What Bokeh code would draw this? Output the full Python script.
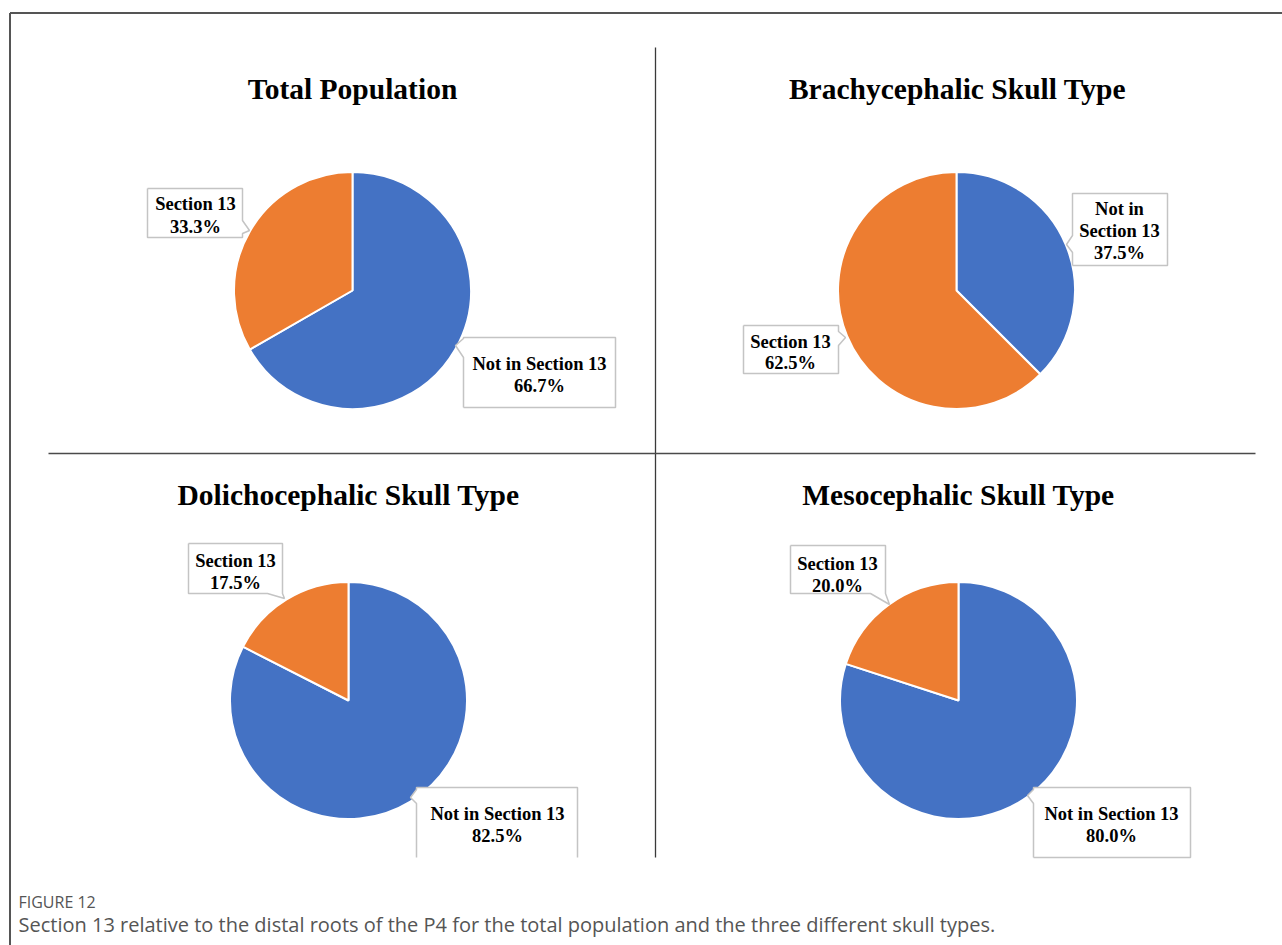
import numpy as np
from bokeh.plotting import figure
from bokeh.models import Range1d
from bokeh.core.properties import value
from bokeh.embed import file_html
from bokeh.resources import INLINE

# ---------------- data ----------------
panels = ["Total Population", "Brachycephalic Skull Type",
          "Dolichocephalic Skull Type", "Mesocephalic Skull Type"]
categories = ["Not in Section 13", "Section 13"]
not_in_section13 = [66.7, 37.5, 82.5, 80.0]
in_section13 = [33.3, 62.5, 17.5, 20.0]
slice_colors = ["#4472C4", "#ED7D31"]
caption_head = "FIGURE 12"
caption_text = ("Section 13 relative to the distal roots of the P4 for the total "
                "population and the three different skull types.")

# ---------------- layout ----------------
W, H = 1282, 945
OX, OY = 0, 0
SERIF = value("Liberation Serif")
SANS = value("Open Sans")

p = figure(width=W, height=H, x_range=Range1d(OX, OX + W),
           y_range=Range1d(-(OY + H), -OY), output_backend="svg",
           toolbar_location=None, min_border=0,
           x_axis_type=None, y_axis_type=None)
p.grid.visible = False
p.outline_line_color = None
p.background_fill_color = "white"
p.border_fill_color = "white"


def Y(v):
    return -v


# frame lines
p.line([9.5, OX + W], [Y(12.5), Y(12.5)], line_color="#555555", line_width=2)
p.line([9.5, 9.5], [Y(12.5), Y(OY + H)], line_color="#555555", line_width=2)
# dividers
p.line([655, 655], [Y(47), Y(857)], line_color="#3a3a3a", line_width=1.3)
p.line([48, 1255], [Y(453), Y(453)], line_color="#4a4a4a", line_width=1.3)

centers = [(352, 290), (956, 290), (348, 700), (958, 700)]
R = 118.5
title_pos = [(352, 88), (957, 88), (348, 494), (958, 494)]

for i, name in enumerate(panels):
    vals = np.array([not_in_section13[i], in_section13[i]], dtype=float)
    fr = vals / vals.sum()
    cum = np.concatenate([[0.0], np.cumsum(fr)])
    cx, cy = centers[i]
    for k in range(len(vals)):
        p.wedge(x=[cx], y=[Y(cy)], radius=R,
                start_angle=np.pi / 2 - 2 * np.pi * cum[k],
                end_angle=np.pi / 2 - 2 * np.pi * cum[k + 1],
                direction="clock", fill_color=slice_colors[k],
                line_color="white", line_width=2)

p.text(x=[t[0] for t in title_pos], y=[Y(t[1]) for t in title_pos], text=panels,
       text_font=SERIF, text_font_style="bold", text_font_size=value("29.5px"),
       text_align="center", text_baseline="alphabetic", text_color="black")

# callouts: (panel, category, box, edge, b0, b1, tip, text_x, line_ys, wrap, open_bottom)
callouts = [
    (0, 1, (147, 188, 242, 237), "right", 220, 233, (249, 230), 195, [203, 226], False, False),
    (0, 0, (463, 337, 615, 407), "left", 338, 357, (455, 345), 539, [363, 385], False, False),
    (1, 1, (743, 325, 838, 373), "right", 331, 345, (845, 337), 790, [341, 362], False, False),
    (1, 0, (1072, 193, 1167, 265), "left", 235, 252, (1066, 244), 1119, [208, 230, 252], True, False),
    (2, 1, (188, 543, 282, 593), "bottom", 267, 282, (284, 598), 235, [560, 582], False, False),
    (2, 0, (416, 787, 577, 857), "left", 789, 803, (410, 797), 497, [813, 835], False, True),
    (3, 1, (790, 545, 885, 593), "bottom", 870, 885, (889, 604), 837, [563, 585], False, False),
    (3, 0, (1033, 787, 1190, 857), "left", 789, 803, (1027, 795), 1111, [813, 835], False, False),
]

series = [not_in_section13, in_section13]

for (pi, ci, box, edge, b0, b1, tip, tx, lys, wrap, open_bottom) in callouts:
    x0, y0, x1, y1 = box
    if edge == "right":
        pts = [(x0, y0), (x1, y0), (x1, b0), tip, (x1, b1), (x1, y1), (x0, y1)]
    elif edge == "left":
        pts = [(x0, y1), (x0, b1), tip, (x0, b0), (x0, y0), (x1, y0), (x1, y1)]
    else:  # bottom
        pts = [(x0, y0), (x1, y0), (x1, y1), (b1, y1), tip, (b0, y1), (x0, y1)]
    xs = [q[0] for q in pts]
    ys = [Y(q[1]) for q in pts]
    p.patch(xs, ys, fill_color="white", line_color=None)
    if open_bottom:
        p.line(xs, ys, line_color="#c4c4c4", line_width=1.5)
    else:
        p.line(xs + [xs[0]], ys + [ys[0]], line_color="#c4c4c4", line_width=1.5)
    cat = categories[ci]
    pct = f"{series[ci][pi]:.1f}%"
    if wrap:
        head, tail = cat.split(" Section")
        lines = [head, "Section" + tail, pct]
    else:
        lines = [cat, pct]
    p.text(x=[tx] * len(lines), y=[Y(v) for v in lys], text=lines,
           text_font=SERIF, text_font_style="bold", text_font_size=value("18.5px"),
           text_align="center", text_baseline="middle", text_color="black")

# caption
p.text(x=[18], y=[Y(901)], text=[caption_head], text_font=SANS,
       text_font_size=value("16px"), text_align="left", text_baseline="middle",
       text_color="#555555")
p.text(x=[18], y=[Y(924)], text=[caption_text], text_font=SANS,
       text_font_size=value("20px"), text_align="left", text_baseline="middle",
       text_color="#555555")

open("out.html", "w").write(file_html(p, INLINE))
